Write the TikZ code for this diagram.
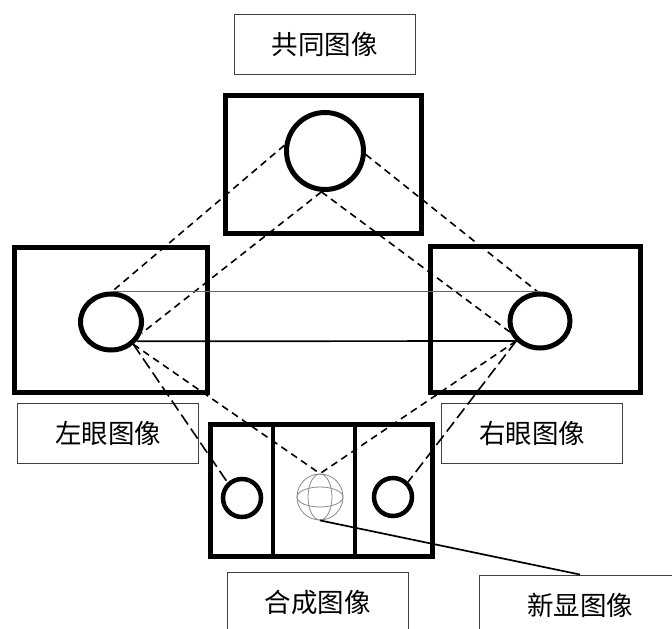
\documentclass[tikz,border=0pt]{standalone}
\usepackage{fontspec}
\newfontfamily\cjk{Noto Sans CJK SC}
\usetikzlibrary{shapes.geometric}
\begin{document}
\begin{tikzpicture}[x=1pt,y=-1pt,
  labelbox/.style={draw=black!75, line width=0.9pt, minimum width=181pt, minimum height=60pt, inner sep=0pt, font=\cjk\fontsize{26.5}{26.5}\selectfont},
  frame/.style={draw, line width=5pt, inner sep=0pt},
  eye/.style={draw, ellipse, line width=5pt, inner sep=0pt},
  smalleye/.style={draw, circle, line width=4.5pt, inner sep=0pt, minimum size=38pt},
  dash1/.style={line width=1.6pt, dash pattern=on 7pt off 5pt},
  dash2/.style={line width=1.6pt, dash pattern=on 12pt off 5pt},
  thinline/.style={line width=0.7pt, draw=black!60},
  thickline/.style={line width=1.7pt}
]
\useasboundingbox (0,0) rectangle (672,629);
\clip (0,0) rectangle (672,629);
% labels
\node[labelbox] (lt) at (324.5,44) {共同图像};
\node[labelbox] (ll) at (108,433) {左眼图像};
\node[labelbox] (lr) at (532,433) {右眼图像};
\node[labelbox] (lb) at (317.5,602) {合成图像};
\node[labelbox, minimum width=202pt] (ln) at (580,605) {新显图像};
% frames
\node[frame, minimum width=196pt, minimum height=138pt] (tf) at (323.5,164.5) {};
\node[frame, minimum width=193pt, minimum height=145pt] (lf) at (111,320) {};
\node[frame, minimum width=210pt, minimum height=146pt] (rf) at (535.5,319.5) {};
\node[frame, minimum width=222pt, minimum height=132pt] (bf) at (321.5,490.5) {};
\draw[line width=4.5pt] (273,0 |- bf.north) -- (273,0 |- bf.south);
\draw[line width=4.5pt] (355,0 |- bf.north) -- (355,0 |- bf.south);
% circles
\node[eye, minimum width=77pt, minimum height=77pt] (tc) at (325,151) {};
\node[eye, minimum width=61pt, minimum height=56pt] (lc) at (111,322) {};
\node[eye, minimum width=60pt, minimum height=54pt] (rc) at (540,321) {};
\node[smalleye] (slc) at (242,498) {};
\node[smalleye] (src) at (393,497) {};
% sphere
\node[circle, draw=black!45, line width=0.8pt, minimum size=46pt, inner sep=0pt] (sp) at (320,497) {};
\draw[black!45, line width=0.8pt] (sp.center) ellipse [x radius=12pt, y radius=23pt];
\draw[black!45, line width=0.8pt] (sp.center) ellipse [x radius=23pt, y radius=10pt];
% connectors
\draw[dash1] (tc.172) -- (lc.88);
\draw[dash1] (tc.265) -- (lc.340);
\draw[dash1] (tc.265) -- (rc.200);
\draw[dash1] (tc.355) -- (rc.95);
\draw[thinline] (lc.north) -- (lc.north -| rc.north);
\draw[thickline] (lc.323) -- (rc.220);
\draw[dash1] (lc.315) -- (sp.north);
\draw[dash2] (lc.315) -- (slc.133);
\draw[dash1] (rc.220) -- (sp.north);
\draw[dash2] (rc.220) -- (src.45);
\draw[thickline] (sp.south) -- (ln.north);
\end{tikzpicture}
\end{document}
